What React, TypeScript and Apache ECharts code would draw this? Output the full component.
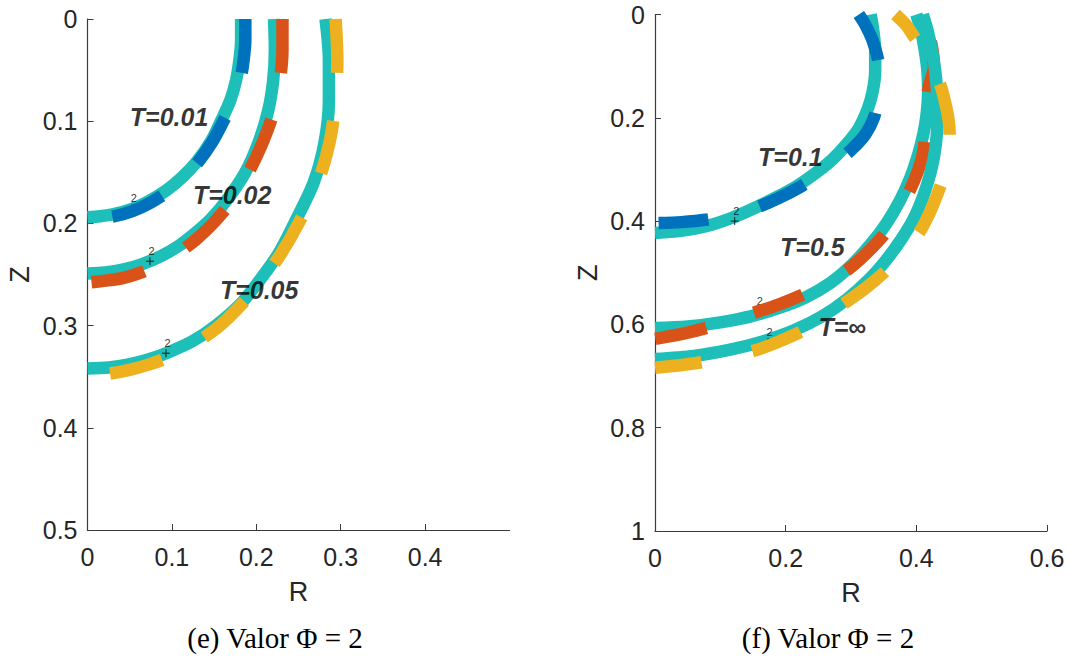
import React, { useEffect, useRef } from 'react';
import * as echarts from 'echarts';

// ---- styling constants ----
const TEAL = '#1dbfb8';
const BLUE = '#0072bd';
const ORANGE = '#d95319';
const YELLOW = '#edb120';
const AXIS = '#3a3a3a';
const TEXT = '#262626';
const SANS = 'Liberation Sans, Arial, sans-serif';
const SERIF = "'Liberation Serif', 'Times New Roman', serif";
const LINE_W = 12.5;

// ---- tick values ----
const leftXTicks = [0, 0.1, 0.2, 0.3, 0.4];
const leftYTicks = [0, 0.1, 0.2, 0.3, 0.4, 0.5];
const rightXTicks = [0, 0.2, 0.4, 0.6];
const rightYTicks = [0, 0.2, 0.4, 0.6, 0.8, 1];

// ---- panel (e): [R, Z] fronts (teal = reference, dashed = computed) ----
const refT001 = [[0.182, 0], [0.182, 0.02], [0.180, 0.04], [0.176, 0.06], [0.169, 0.08], [0.158, 0.10], [0.146, 0.12], [0.129, 0.14], [0.112, 0.155], [0.093, 0.168], [0.073, 0.178], [0.052, 0.186], [0.031, 0.191], [0.015, 0.193], [0, 0.194]];
const numT001 = [[0.187, 0], [0.187, 0.02], [0.185, 0.04], [0.181, 0.06], [0.173, 0.08], [0.161, 0.10], [0.148, 0.12], [0.131, 0.14], [0.114, 0.155], [0.095, 0.169], [0.074, 0.18], [0.053, 0.188], [0.032, 0.193], [0.015, 0.195], [0, 0.196]];
const refT002 = [[0.221, 0], [0.222, 0.03], [0.220, 0.06], [0.214, 0.09], [0.203, 0.12], [0.187, 0.15], [0.167, 0.175], [0.147, 0.195], [0.127, 0.21], [0.108, 0.222], [0.087, 0.232], [0.064, 0.24], [0.043, 0.245], [0.021, 0.248], [0, 0.249]];
const numT002 = [[0.231, 0], [0.231, 0.03], [0.228, 0.06], [0.221, 0.09], [0.208, 0.12], [0.191, 0.15], [0.172, 0.177], [0.151, 0.198], [0.131, 0.214], [0.111, 0.227], [0.090, 0.238], [0.067, 0.247], [0.044, 0.253], [0.022, 0.256], [0, 0.258]];
const refT005 = [[0.282, 0], [0.286, 0.04], [0.286, 0.08], [0.281, 0.12], [0.268, 0.16], [0.245, 0.20], [0.226, 0.23], [0.200, 0.26], [0.180, 0.28], [0.152, 0.30], [0.125, 0.315], [0.099, 0.325], [0.073, 0.333], [0.049, 0.338], [0.025, 0.341], [0, 0.342]];
const numT005 = [[0.294, 0], [0.296, 0.04], [0.294, 0.08], [0.287, 0.12], [0.273, 0.16], [0.250, 0.20], [0.229, 0.23], [0.203, 0.26], [0.184, 0.278], [0.157, 0.30], [0.130, 0.316], [0.104, 0.328], [0.077, 0.337], [0.051, 0.343], [0.026, 0.347], [0, 0.349]];

// ---- panel (f): [R, Z] fronts ----
const refT01 = [[0.330, 0], [0.334, 0.03], [0.337, 0.07], [0.337, 0.11], [0.333, 0.15], [0.325, 0.185], [0.312, 0.22], [0.294, 0.25], [0.272, 0.28], [0.246, 0.307], [0.216, 0.333], [0.184, 0.355], [0.150, 0.376], [0.115, 0.395], [0.078, 0.41], [0.040, 0.419], [0, 0.423]];
const numT01 = [[0.312, 0], [0.322, 0.02], [0.333, 0.05], [0.341, 0.085], [0.344, 0.12], [0.342, 0.16], [0.335, 0.2], [0.322, 0.232], [0.302, 0.26], [0.279, 0.285], [0.252, 0.31], [0.222, 0.334], [0.190, 0.355], [0.157, 0.373], [0.120, 0.388], [0.080, 0.397], [0.040, 0.402], [0, 0.404]];
const refT05 = [[0.400, 0], [0.407, 0.03], [0.413, 0.07], [0.417, 0.11], [0.418, 0.15], [0.416, 0.19], [0.411, 0.23], [0.403, 0.27], [0.391, 0.315], [0.375, 0.36], [0.354, 0.405], [0.330, 0.445], [0.301, 0.485], [0.268, 0.52], [0.230, 0.548], [0.190, 0.568], [0.148, 0.584], [0.100, 0.596], [0.050, 0.604], [0, 0.607]];
const numT05 = [[0.410, 0], [0.418, 0.03], [0.425, 0.07], [0.427, 0.10], [0.419, 0.14], [0.414, 0.19], [0.413, 0.24], [0.407, 0.285], [0.392, 0.335], [0.373, 0.38], [0.350, 0.427], [0.323, 0.463], [0.294, 0.495], [0.260, 0.522], [0.225, 0.543], [0.188, 0.562], [0.150, 0.578], [0.100, 0.599], [0.050, 0.616], [0, 0.628]];
const refTinf = [[0.410, 0], [0.417, 0.03], [0.424, 0.07], [0.429, 0.11], [0.432, 0.16], [0.432, 0.21], [0.429, 0.26], [0.422, 0.305], [0.411, 0.35], [0.396, 0.395], [0.377, 0.435], [0.354, 0.475], [0.326, 0.515], [0.293, 0.552], [0.255, 0.585], [0.212, 0.612], [0.165, 0.633], [0.115, 0.649], [0.060, 0.661], [0, 0.667]];
const numTinf = [[0.368, 0], [0.384, 0.02], [0.398, 0.046], [0.412, 0.07], [0.425, 0.105], [0.437, 0.137], [0.445, 0.175], [0.450, 0.21], [0.451, 0.24], [0.449, 0.275], [0.443, 0.31], [0.433, 0.345], [0.420, 0.385], [0.404, 0.423], [0.380, 0.462], [0.352, 0.498], [0.322, 0.53], [0.291, 0.558], [0.258, 0.587], [0.225, 0.613], [0.190, 0.633], [0.156, 0.649], [0.117, 0.662], [0.077, 0.672], [0.038, 0.679], [0, 0.684]];

// contour-label positions ("+" with level 2)
const levelMarksLeft = [[0.053, 0.185], [0.074, 0.237], [0.093, 0.327]];
const levelMarksRight = [[0.122, 0.400], [0.158, 0.574], [0.173, 0.634]];

// curve annotations
const labelsLeft = [
  { name: 'T=0.01', value: [0.0967, 0.0959] },
  { name: 'T=0.02', value: [0.1714, 0.1722] },
  { name: 'T=0.05', value: [0.2034, 0.2652] },
];
const labelsRight = [
  { name: 'T=0.1', value: [0.2072, 0.2759] },
  { name: 'T=0.5', value: [0.2408, 0.4501] },
  { name: 'T=\u221e', value: [0.2867, 0.6050] },
];

const PLUS = 'path://M0,5L10,5M5,0L5,10';

function buildSeries() {
  const out: any[] = [];
  let z = 1;
  const curve = (
    g: number,
    ref: number[][],
    num: number[][],
    color: string,
    dash: number[],
    offset: number,
    mark: number[],
  ) => {
    out.push({
      type: 'line', xAxisIndex: g, yAxisIndex: g, data: ref,
      showSymbol: false, symbol: 'none', smooth: 0.3, silent: true, z: z++,
      lineStyle: { color: TEAL, width: LINE_W },
    });
    out.push({
      type: 'scatter', xAxisIndex: g, yAxisIndex: g, data: [mark],
      symbol: PLUS, symbolSize: 8, silent: true, z: z++,
      itemStyle: { color: 'none', borderColor: '#000', borderWidth: 1 },
      label: { show: true, formatter: '2', position: [5, -9], fontSize: 11, fontFamily: SANS, color: '#000' },
    });
    out.push({
      type: 'line', xAxisIndex: g, yAxisIndex: g, data: num,
      showSymbol: false, symbol: 'none', smooth: 0.3, silent: true, z: z++,
      lineStyle: { color, width: LINE_W, type: dash, dashOffset: offset, cap: 'butt' },
    });
  };
  curve(0, refT001, numT001, BLUE, [54, 48], 0, levelMarksLeft[0]);
  curve(0, refT002, numT002, ORANGE, [54, 48], 0, levelMarksLeft[1]);
  curve(0, refT005, numT005, YELLOW, [54, 48], 0, levelMarksLeft[2]);
  curve(1, refT01, numT01, BLUE, [50, 53], 0, levelMarksRight[0]);
  curve(1, refT05, numT05, ORANGE, [52, 50], 74, levelMarksRight[1]);
  curve(1, refTinf, numTinf, YELLOW, [52, 52], 21, levelMarksRight[2]);

  const tLabel = {
    show: true, position: 'inside', formatter: '{b}', color: '#000',
    fontFamily: SANS, fontWeight: 'bold', fontStyle: 'italic', fontSize: 25,
  };
  out.push({
    type: 'scatter', xAxisIndex: 0, yAxisIndex: 0, data: labelsLeft, symbolSize: 1,
    itemStyle: { color: 'transparent' }, label: tLabel, silent: true, z: z++,
  });
  out.push({
    type: 'scatter', xAxisIndex: 1, yAxisIndex: 1, data: labelsRight, symbolSize: 1,
    itemStyle: { color: 'transparent' }, label: tLabel, silent: true, z: z++,
  });
  return out;
}

function axis(extra: any, ticks: number[], labelMargin: number) {
  return {
    type: 'value',
    splitLine: { show: false },
    axisLine: { show: true, onZero: false, lineStyle: { color: AXIS, width: 1.2 } },
    axisTick: { show: true, inside: true, length: 6, lineStyle: { color: AXIS, width: 1 }, customValues: ticks },
    axisLabel: { color: TEXT, fontFamily: SANS, fontSize: 25, margin: labelMargin, customValues: ticks },
    nameLocation: 'middle',
    nameTextStyle: { color: TEXT, fontFamily: SANS, fontSize: 27 },
    nameMoveOverlap: false,
    ...extra,
  };
}

function caption(text: string, x: number) {
  return {
    type: 'text', x, y: 638, silent: true,
    style: { text, font: `29px ${SERIF}`, fill: '#000', align: 'center', verticalAlign: 'middle' },
  };
}

export default function App() {
  const ref = useRef<HTMLDivElement>(null);
  useEffect(() => {
    document.body.style.margin = '0';
    const chart = echarts.init(ref.current!, null, { renderer: 'svg' });
    chart.setOption({
      animation: false,
      backgroundColor: '#ffffff',
      grid: [
        { left: 87.5, top: 19, width: 422, height: 511, outerBoundsMode: 'none' },
        { left: 655, top: 14.5, width: 392, height: 516.5, outerBoundsMode: 'none' },
      ],
      xAxis: [
        axis({ gridIndex: 0, min: 0, max: 0.5, interval: 0.1, name: 'R', nameGap: 48 }, leftXTicks, 14),
        axis({ gridIndex: 1, min: 0, max: 0.6, interval: 0.2, name: 'R', nameGap: 48 }, rightXTicks, 14),
      ],
      yAxis: [
        axis({ gridIndex: 0, min: 0, max: 0.5, interval: 0.1, inverse: true, name: 'Z', nameGap: 54 }, leftYTicks, 10),
        axis({ gridIndex: 1, min: 0, max: 1, interval: 0.2, inverse: true, name: 'Z', nameGap: 54 }, rightYTicks, 10),
      ],
      series: buildSeries(),
      graphic: [
        caption('(e) Valor \u03a6 = 2', 275),
        caption('(f) Valor \u03a6 = 2', 828),
      ],
    });
    return () => chart.dispose();
  }, []);
  return <div ref={ref} style={{ width: 1070, height: 658, background: '#fff' }} />;
}
